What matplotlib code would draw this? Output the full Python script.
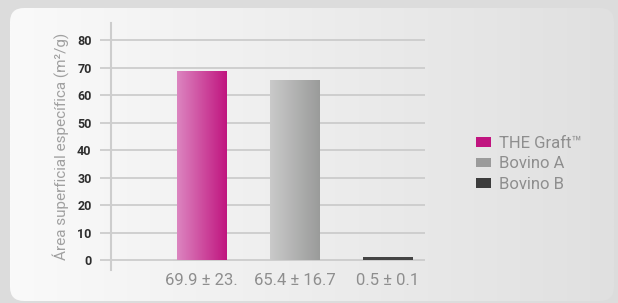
import numpy as np
import matplotlib
matplotlib.use("Agg")
from matplotlib import pyplot as plt
from matplotlib.colors import LinearSegmentedColormap
from matplotlib.patches import FancyBboxPatch, Patch

# data
categories = ["THE Graft™", "Bovino A", "Bovino B"]
values = [68.8, 65.4, 1.2]
tick_labels = ["69.9 ± 23.", "65.4 ± 16.7", "0.5 ± 0.1"]
yticks = [0, 10, 20, 30, 40, 50, 60, 70, 80]

GRADS = [("#dc85c0", "#c0157f"), ("#cacaca", "#9a9b9a"), ("#444444", "#444444")]
SWATCH = ["#c0147f", "#9b9b9b", "#3c3c3c"]
GREY_TXT = "#8e8e8e"

plt.rcParams["font.family"] = ["Roboto", "DejaVu Sans"]

W, H = 618, 303
fig = plt.figure(figsize=(W / 100, H / 100), dpi=100)
fig.patch.set_facecolor("#dcdcdc")

# rounded background panel with a soft horizontal gradient
bg = fig.add_axes([0, 0, 1, 1])
bg.set_xlim(0, W)
bg.set_ylim(0, H)
bg.axis("off")
panel = FancyBboxPatch((10, 2), 604, 293, boxstyle="round,pad=0,rounding_size=14",
                       facecolor="none", edgecolor="none", transform=bg.transData)
bg.add_patch(panel)
grad = np.linspace(0, 1, 256).reshape(1, -1)
cmap_bg = LinearSegmentedColormap.from_list("bg", ["#fafafa", "#e0e0e0"])
im = bg.imshow(grad, extent=(10, 614, 2, 295), cmap=cmap_bg, aspect="auto", origin="lower")
im.set_clip_path(panel)

# main axes
ax = fig.add_axes([111 / W, 33 / H, 314 / W, 247 / H])
ax.patch.set_alpha(0)
x = np.arange(len(categories))
bars = ax.bar(x, values, width=0.53, color="none", zorder=3)

for b, (c0, c1) in zip(bars, GRADS):
    cm = LinearSegmentedColormap.from_list("g", [c0, c1])
    x0, y0 = b.get_x(), b.get_y()
    gim = ax.imshow(grad, extent=(x0, x0 + b.get_width(), y0, y0 + b.get_height()),
                    cmap=cm, aspect="auto", origin="lower", zorder=3)
    gim.set_clip_path(b)
ax.set_xlim(-0.97, 2.40)
ax.set_ylim(-3.6, 86.2)

ax.set_yticks(yticks)
ax.yaxis.grid(True, color="#c9c9c9", linewidth=1.2, zorder=0)
ax.tick_params(axis="y", length=8, width=1.2, color="#c9c9c9", pad=6,
               labelsize=9, labelcolor="#2e2e2e")
for lab in ax.get_yticklabels():
    lab.set_fontweight("bold")

ax.set_xticks(x)
ax.set_xticklabels(tick_labels, fontsize=12, color=GREY_TXT)
ax.tick_params(axis="x", length=0, pad=2)

for s in ["top", "right", "bottom"]:
    ax.spines[s].set_visible(False)
ax.spines["left"].set_color("#cdcdcd")
ax.spines["left"].set_linewidth(1.5)

ax.set_ylabel("Área superficial específica (m²/g)", fontsize=11, color="#a0a0a0",
              labelpad=6)

handles = [Patch(facecolor=c, edgecolor="none") for c in SWATCH]
fig.legend(handles, categories, loc="upper left", bbox_to_anchor=(461 / W, 1 - 121 / H),
           frameon=False, labelcolor=GREY_TXT, handlelength=0.9,
           handleheight=0.5, handletextpad=0.5, labelspacing=0.32,
           prop={"size": 12})

fig.savefig("out.png", dpi=100, facecolor=fig.get_facecolor())
